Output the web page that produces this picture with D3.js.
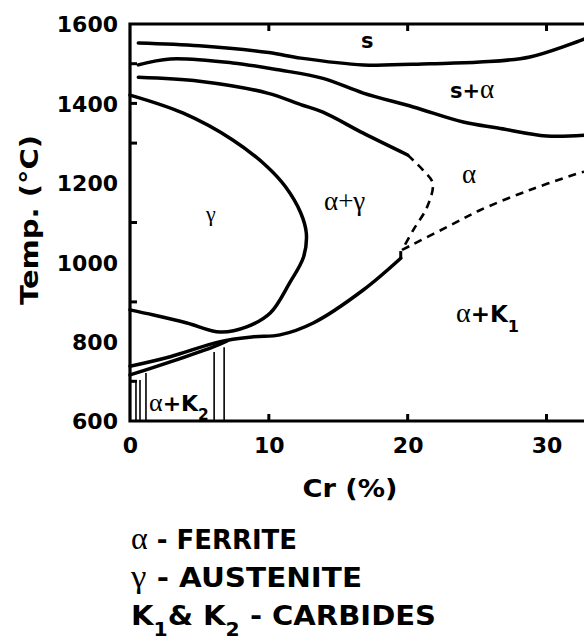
<!DOCTYPE html>
<html>
<head>
<meta charset="utf-8">
<script src="https://cdn.jsdelivr.net/npm/d3@7"></script>
<style>
  body { margin: 0; background: #fff; }
  .bold { font-family: "DejaVu Sans", sans-serif; font-weight: bold; }
  .greek { font-family: "Liberation Serif", serif; font-weight: normal; }
</style>
</head>
<body>
<svg id="chart" width="584" height="639"></svg>
<script>
// phase boundary curves, [Cr %, Temp C]
var liquidus = [[0.6,1552],[5,1545],[10,1528],[12.3,1514],[16.8,1497],[21.6,1500],[25.2,1504],[28.8,1517],[32.7,1562]];
var solidus = [[0.6,1497],[2.9,1512],[7.4,1502],[10.8,1484],[13.9,1463],[16.8,1426],[20.4,1391],[24,1353],[26.5,1338],[30,1318],[32.7,1320]];
var gammaTop = [[0.6,1466],[5,1456],[9.9,1426],[12.3,1397],[13.9,1378],[16.8,1325],[20,1270]];
var gammaTopDash = [[20,1270],[21.1,1232],[21.8,1199],[21.4,1139],[20.4,1081],[19.6,1031]];
var gammaLoop = [[0,1421],[3.8,1376],[7.4,1308],[9.9,1240],[11.2,1190],[12.3,1124],[12.7,1073],[12.5,1013],[11.5,948],[10.1,872],[8.4,837],[6.5,824],[4.1,847],[1.7,867],[0,880]];
var carbideUpper = [[0,738],[2.9,762],[6.5,800],[8.9,812],[10.8,817],[13.2,847],[16.8,930],[19.5,1010]];
var carbideLower = [[0,716],[2.9,749],[6,787],[7,802]];
var k1Dash = [[19.6,1031],[23.8,1106],[25.2,1131],[28.8,1182],[32.4,1225],[32.7,1228]];
var stub = [[19.5,1008],[19.5,1028]];
// thin verticals in the K2 region: [Cr %, top Temp]
var verticals = [[0.43,703],[0.72,703],[1.15,721],[6.06,774],[6.78,786]];

var xTicks = [0, 10, 20, 30];
var yTicks = [600, 800, 1000, 1200, 1400, 1600];
var yMinor = [700, 900, 1100, 1300, 1400, 1500];

var svg = d3.select("#chart");
var x = d3.scaleLinear().domain([0, 32.7]).range([130, 584]);
var y = d3.scaleLinear().domain([600, 1600]).range([421, 24]);

var line = d3.line()
  .x(function (d) { return x(d[0]); })
  .y(function (d) { return y(d[1]); })
  .curve(d3.curveCatmullRom);

// solid curves
[liquidus, solidus, gammaTop, gammaLoop, carbideUpper, carbideLower].forEach(function (c) {
  svg.append("path").attr("d", line(c))
    .attr("fill", "none").attr("stroke", "#000")
    .attr("stroke-width", 3.5).attr("stroke-linecap", "round");
});
svg.append("path").attr("d", line(stub))
  .attr("fill", "none").attr("stroke", "#000").attr("stroke-width", 3);

// dashed curves
[gammaTopDash, k1Dash].forEach(function (c) {
  svg.append("path").attr("d", line(c))
    .attr("fill", "none").attr("stroke", "#000")
    .attr("stroke-width", 2.6).attr("stroke-dasharray", "8,6");
});

svg.selectAll(".vert").data(verticals).enter().append("line")
  .attr("x1", function (d) { return x(d[0]); })
  .attr("x2", function (d) { return x(d[0]); })
  .attr("y1", function (d) { return y(d[1]); })
  .attr("y2", y(600))
  .attr("stroke", "#000").attr("stroke-width", 1.6);

// axes
var gx = svg.append("g").attr("transform", "translate(0," + y(600) + ")")
  .call(d3.axisBottom(x).tickValues(xTicks).tickSize(0).tickPadding(16).tickFormat(d3.format("d")));
var gy = svg.append("g").attr("transform", "translate(" + x(0) + ",0)")
  .call(d3.axisLeft(y).tickValues(yTicks).tickSize(0).tickPadding(12).tickFormat(d3.format("d")));
[gx, gy].forEach(function (g) {
  g.select(".domain").remove();
  g.selectAll("text").attr("class", "bold").attr("font-size", 22).attr("fill", "#000");
});
gy.selectAll("text").attr("dy", "0.36em");
gx.selectAll("text").attr("dy", "0.72em");

// frame lines (left, top, bottom)
svg.append("path")
  .attr("d", "M" + x(32.7) + "," + y(1600) + "H" + x(0) + "V" + y(600) + "H" + x(32.7))
  .attr("fill", "none").attr("stroke", "#000").attr("stroke-width", 3.2);

// inward ticks
svg.selectAll(".tb").data(xTicks.slice(1)).enter().append("path")
  .attr("d", function (d) { return "M" + x(d) + "," + y(600) + "v-7M" + x(d) + "," + y(1600) + "v7"; })
  .attr("stroke", "#000").attr("stroke-width", 3);
svg.selectAll(".tl").data(yMinor).enter().append("path")
  .attr("d", function (d) { return "M" + x(0) + "," + y(d) + "h7"; })
  .attr("stroke", "#000").attr("stroke-width", 3);

// axis titles
svg.append("text").attr("class", "bold").attr("font-size", 25)
  .attr("x", 350).attr("y", 497).attr("text-anchor", "middle")
  .attr("textLength", 95).attr("lengthAdjust", "spacingAndGlyphs").text("Cr (%)");
svg.append("text").attr("class", "bold").attr("font-size", 25)
  .attr("transform", "translate(38,220) rotate(-90)")
  .attr("text-anchor", "middle")
  .attr("textLength", 170).attr("lengthAdjust", "spacingAndGlyphs").text("Temp. (°C)");

// region labels
function label(px, py, parts, size, gsize) {
  var t = svg.append("text").attr("x", px).attr("y", py).attr("font-size", size);
  parts.forEach(function (p) {
    var s = t.append("tspan").attr("class", p[1]).text(p[0]);
    if (p[1] === "greek" && gsize) s.attr("font-size", gsize);
    if (p[2]) s.attr("baseline-shift", "sub").attr("font-size", size * 0.7);
  });
  return t;
}
label(361, 48, [["s", "bold"]], 21);
label(450, 98, [["s+", "bold"], ["α", "greek"]], 21, 27);
label(462, 183, [["α", "greek"]], 27);
label(324, 210, [["α+γ", "greek"]], 27);
label(206, 221, [["γ", "greek"]], 22);
label(456, 322, [["α", "greek"], ["+K", "bold"], ["1", "bold", true]], 23, 28);
label(149, 411, [["α", "greek"], ["+K", "bold"], ["2", "bold", true]], 22, 26);

// legend
label(131, 549, [["α", "greek"], [" - FERRITE", "bold"]], 26, 32)
  .attr("textLength", 166).attr("lengthAdjust", "spacingAndGlyphs");
label(131, 587, [["γ", "greek"], [" - AUSTENITE", "bold"]], 27, 32)
  .attr("textLength", 231).attr("lengthAdjust", "spacingAndGlyphs");
label(131, 625, [["K", "bold"], ["1", "bold", true], ["& K", "bold"], ["2", "bold", true], [" - CARBIDES", "bold"]], 27)
  .attr("textLength", 305).attr("lengthAdjust", "spacingAndGlyphs");
</script>
</body>
</html>
